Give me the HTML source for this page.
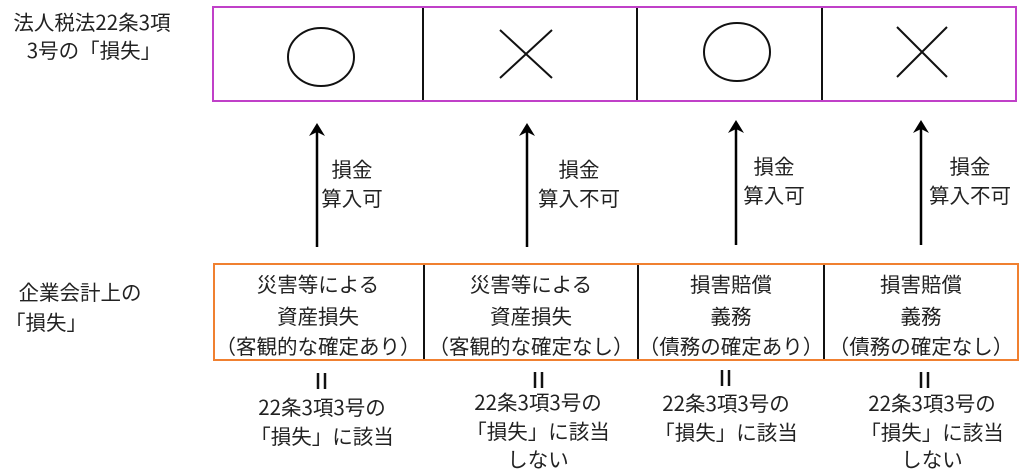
<!DOCTYPE html>
<html><head><meta charset="utf-8"><style>
html,body{margin:0;padding:0;background:#fff;}
svg{display:block;}
text{font-family:"Noto Sans CJK JP","Liberation Sans",sans-serif;font-size:20.5px;fill:#222;}
</style></head><body>
<svg width="1024" height="474" viewBox="0 0 1024 474" xmlns="http://www.w3.org/2000/svg">
<text x="92" y="30" text-anchor="middle">法人税法22条3項</text>
<text x="94" y="58" text-anchor="middle">3号の「損失」</text>
<rect x="213" y="7" width="803" height="94" fill="none" stroke="#c040c8" stroke-width="2"/>
<g stroke="#111" stroke-width="2">
<line x1="423" y1="8" x2="423" y2="100"/><line x1="637" y1="8" x2="637" y2="100"/><line x1="822" y1="8" x2="822" y2="100"/>
</g>
<g fill="none" stroke="#111" stroke-width="2">
<ellipse cx="321" cy="57" rx="33" ry="29"/><ellipse cx="737" cy="52" rx="33" ry="29"/>
<path d="M500,30 L552,78 M552,30 L500,78"/><path d="M897,27 L947,77 M947,27 L897,77"/>
</g>
<g stroke="#000" stroke-width="2.5">
<line x1="317" y1="128" x2="317" y2="247"/><line x1="527" y1="128" x2="527" y2="247"/>
<line x1="736" y1="125" x2="736" y2="245"/><line x1="921" y1="125" x2="921" y2="245"/>
</g>
<g fill="#000">
<path d="M317,123 L325,136 L317,132 L309,136 Z"/><path d="M527,123 L535,136 L527,132 L519,136 Z"/>
<path d="M736,120 L744,133 L736,129 L728,133 Z"/><path d="M921,120 L929,133 L921,129 L913,133 Z"/>
</g>
<text x="352" y="177" text-anchor="middle">損金</text><text x="352" y="206" text-anchor="middle">算入可</text>
<text x="579" y="177" text-anchor="middle">損金</text><text x="579" y="206" text-anchor="middle">算入不可</text>
<text x="774" y="174" text-anchor="middle">損金</text><text x="774" y="203" text-anchor="middle">算入可</text>
<text x="970" y="174" text-anchor="middle">損金</text><text x="970" y="203" text-anchor="middle">算入不可</text>
<text x="80" y="300" text-anchor="middle">企業会計上の</text>
<text x="46" y="330" text-anchor="middle">「損失」</text>
<rect x="214" y="264" width="804" height="96" fill="none" stroke="#f08030" stroke-width="2"/>
<g stroke="#111" stroke-width="2">
<line x1="424" y1="265" x2="424" y2="359"/><line x1="638" y1="265" x2="638" y2="359"/><line x1="824" y1="265" x2="824" y2="359"/>
</g>
<g text-anchor="middle">
<text x="318" y="292">災害等による</text><text x="318" y="324">資産損失</text><text x="318" y="354">（客観的な確定あり）</text>
<text x="531" y="292">災害等による</text><text x="531" y="324">資産損失</text><text x="531" y="354">（客観的な確定なし）</text>
<text x="731" y="292">損害賠償</text><text x="731" y="324">義務</text><text x="731" y="354">（債務の確定あり）</text>
<text x="921" y="292">損害賠償</text><text x="921" y="324">義務</text><text x="921" y="354">（債務の確定なし）</text>
</g>
<g stroke="#111" stroke-width="2.5">
<line x1="318" y1="373" x2="318" y2="389"/><line x1="325" y1="373" x2="325" y2="389"/>
<line x1="535" y1="372" x2="535" y2="388"/><line x1="542" y1="372" x2="542" y2="388"/>
<line x1="722" y1="370" x2="722" y2="386"/><line x1="729" y1="370" x2="729" y2="386"/>
<line x1="921" y1="372" x2="921" y2="388"/><line x1="928" y1="372" x2="928" y2="388"/>
</g>
<g text-anchor="middle">
<text x="322" y="415">22条3項3号の</text><text x="322" y="444">「損失」に該当</text>
<text x="538" y="410">22条3項3号の</text><text x="538" y="439">「損失」に該当</text><text x="538" y="467">しない</text>
<text x="726" y="411">22条3項3号の</text><text x="726" y="440">「損失」に該当</text>
<text x="932" y="411">22条3項3号の</text><text x="932" y="440">「損失」に該当</text><text x="932" y="467">しない</text>
</g>
</svg>
</body></html>
